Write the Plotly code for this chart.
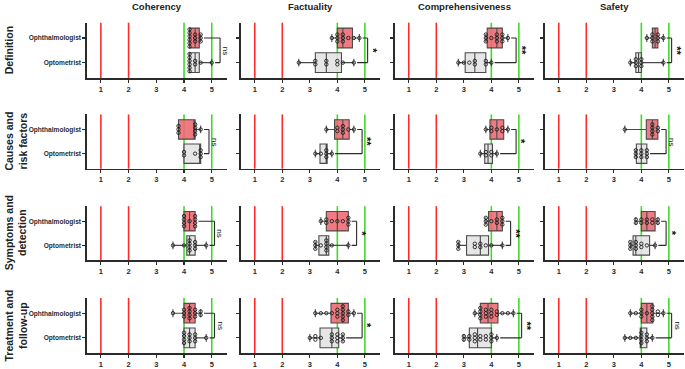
import plotly.graph_objects as go

criteria = ["Coherency", "Factuality", "Comprehensiveness", "Safety"]
topics = ["Definition", "Causes and<br>risk factors", "Symptoms and<br>detection", "Treatment and<br>follow-up"]
groups = ["Ophthalmologist", "Optometrist"]
x_ticks = [1, 2, 3, 4, 5]
ref_red = [1, 2]
ref_green = [4, 5]

# individual scores, per topic, one list per criterion
opht_definition = [
    [4.2, 4.2, 4.2, 4.2, 4.2, 4.2, 4.4, 4.4, 4.4, 4.6, 4.6, 4.6],
    [3.8, 4.0, 4.0, 4.0, 4.2, 4.2, 4.2, 4.4, 4.6, 4.8],
    [3.8, 3.8, 3.8, 4.0, 4.2, 4.2, 4.2, 4.4, 4.4, 4.4, 4.6],
    [4.2, 4.4, 4.4, 4.4, 4.6, 4.6, 4.6, 4.8],
]
opt_definition = [
    [4.2, 4.2, 4.2, 4.2, 4.2, 4.2, 4.4, 4.4, 4.6, 5.0],
    [2.6, 3.2, 3.2, 3.6, 3.6, 4.0, 4.0, 4.2, 4.6],
    [2.8, 3.0, 3.2, 3.4, 3.4, 3.8, 3.8, 4.0],
    [3.6, 3.8, 3.8, 3.8, 4.0, 4.0, 4.0, 4.8],
]
opht_causes = [
    [3.8, 3.8, 3.8, 4.4, 4.4, 4.4, 4.4, 4.6],
    [3.6, 4.0, 4.0, 4.2, 4.2, 4.2, 4.4, 4.6],
    [3.8, 4.0, 4.0, 4.2, 4.4, 4.4, 4.6],
    [3.4, 4.4, 4.4, 4.4, 4.4, 4.6, 4.6],
]
opt_causes = [
    [4.0, 4.0, 4.4, 4.6, 4.6, 4.6],
    [3.2, 3.4, 3.6, 3.6, 3.6, 3.8],
    [3.6, 3.8, 3.8, 4.0, 4.0, 4.2],
    [3.8, 3.8, 3.8, 4.0, 4.0, 4.0, 4.2, 4.2, 4.2],
]
opht_symptoms = [
    [4.0, 4.0, 4.0, 4.0, 4.2, 4.4, 4.4, 4.4, 4.4],
    [3.4, 3.6, 3.6, 3.8, 4.0, 4.2, 4.4, 4.4, 4.4],
    [3.8, 3.8, 3.8, 4.0, 4.2, 4.2, 4.4, 4.4, 4.4],
    [3.8, 3.8, 4.0, 4.0, 4.2, 4.2, 4.4, 4.4, 4.6, 4.6],
]
opt_symptoms = [
    [3.6, 4.0, 4.2, 4.2, 4.2, 4.2, 4.4, 4.4, 4.4, 4.8],
    [3.2, 3.2, 3.2, 3.4, 3.6, 3.6, 3.6, 3.6, 3.8, 4.4],
    [2.8, 2.8, 2.8, 3.4, 3.4, 3.6, 3.6, 3.8, 4.0, 4.4],
    [3.6, 3.6, 3.6, 3.8, 3.8, 3.8, 4.0, 4.0, 4.2, 4.5],
]
opht_treatment = [
    [3.6, 4.0, 4.0, 4.0, 4.2, 4.2, 4.2, 4.2, 4.4, 4.4, 4.4, 4.6, 4.6],
    [3.2, 3.4, 3.6, 3.8, 4.0, 4.0, 4.0, 4.2, 4.2, 4.2, 4.2, 4.2, 4.4, 4.4, 4.6],
    [3.4, 3.6, 3.6, 3.6, 3.6, 3.8, 3.8, 3.8, 4.0, 4.0, 4.0, 4.2, 4.2, 4.4, 4.6, 4.8],
    [3.6, 3.8, 4.0, 4.0, 4.0, 4.2, 4.4, 4.4, 4.4, 4.4, 4.4, 4.6, 4.6, 4.8],
]
opt_treatment = [
    [4.0, 4.0, 4.0, 4.0, 4.2, 4.2, 4.2, 4.4, 4.4, 4.4, 4.8],
    [3.0, 3.2, 3.2, 3.4, 3.8, 3.8, 3.8, 4.0, 4.0, 4.0, 4.2, 4.2, 4.2],
    [3.0, 3.0, 3.2, 3.2, 3.4, 3.4, 3.4, 3.6, 3.6, 3.8, 3.8, 4.0, 4.0, 4.0, 4.2],
    [3.4, 3.6, 3.8, 4.0, 4.0, 4.0, 4.0, 4.2, 4.2, 4.2, 4.4],
]

# box statistics (rows = topics, cols = criteria)
opht_q1 = [[4.2, 4.0, 3.85, 4.4], [3.8, 3.9, 3.95, 4.18], [4.0, 3.6, 3.9, 4.0], [4.0, 3.77, 3.6, 4.0]]
opht_med = [[4.4, 4.2, 4.2, 4.5], [4.4, 4.2, 4.2, 4.4], [4.2, 4.0, 4.2, 4.2], [4.2, 4.2, 3.88, 4.2]]
opht_q3 = [[4.55, 4.55, 4.4, 4.6], [4.4, 4.43, 4.45, 4.6], [4.4, 4.4, 4.4, 4.5], [4.4, 4.4, 4.24, 4.42]]
opht_min = [[4.2, 3.8, 3.8, 4.2], [3.8, 3.6, 3.8, 3.4], [4.0, 3.4, 3.8, 3.8], [3.6, 3.2, 3.4, 3.6]]
opht_max = [[4.6, 4.8, 4.6, 4.8], [4.6, 4.6, 4.6, 4.6], [4.4, 4.4, 4.4, 4.6], [4.6, 4.6, 4.8, 4.8]]

opt_q1 = [[4.2, 3.2, 3.05, 3.8], [4.0, 3.37, 3.76, 3.82], [4.1, 3.33, 3.1, 3.7], [4.0, 3.37, 3.2, 3.96]]
opt_med = [[4.4, 3.6, 3.4, 3.9], [4.6, 3.6, 3.88, 4.0], [4.2, 3.6, 3.6, 3.8], [4.2, 3.8, 3.5, 4.0]]
opt_q3 = [[4.55, 4.15, 3.8, 4.0], [4.6, 3.63, 4.04, 4.2], [4.4, 3.69, 3.9, 4.3], [4.4, 4.05, 4.0, 4.2]]
opt_min = [[4.2, 2.6, 2.8, 3.6], [4.0, 3.2, 3.6, 3.8], [3.6, 3.2, 2.8, 3.6], [4.0, 3.0, 3.0, 3.4]]
opt_max = [[5.0, 4.6, 4.0, 4.8], [4.6, 3.8, 4.2, 4.2], [4.8, 4.4, 4.4, 4.5], [4.8, 4.2, 4.2, 4.4]]

sig_labels = [["ns", "*", "**", "**"], ["ns", "**", "*", "ns"], ["ns", "*", "**", "*"], ["ns", "*", "**", "ns"]]

opht_points = [opht_definition, opht_causes, opht_symptoms, opht_treatment]
opt_points = [opt_definition, opt_causes, opt_symptoms, opt_treatment]

# ---------------- layout geometry (pixels) ----------------
W, H = 685, 369
col_px = [(87, 227), (241, 380), (395, 534), (545, 684)]
row_px = [(23, 79), (116, 171), (209, 264), (302, 358)]
FONT = "Arial, Liberation Sans, sans-serif"
DARK = "#2b2b2b"

OPHT_FILL = "rgba(238,104,112,0.88)"
OPT_FILL = "rgba(226,226,226,0.88)"
RED = "#ff2b2b"
GREEN = "#3fd92a"

fig = go.Figure()
shapes = []
annotations = []


def swarm(vals, base, step=0.14):
    ys, xs = [], []
    counts = {}
    for v in vals:
        counts[v] = counts.get(v, 0) + 1
    for v, n in counts.items():
        for i in range(n):
            xs.append(v)
            ys.append(base + (i - (n - 1) / 2) * step)
    return xs, ys


for r in range(4):
    for c in range(4):
        k = r * 4 + c + 1
        sx = "" if k == 1 else str(k)
        xa, ya = "x" + sx, "y" + sx
        x0, x1 = col_px[c]
        y0, y1 = row_px[r]
        fig.layout["xaxis" + sx] = dict(
            domain=[x0 / W, x1 / W], anchor=ya, range=[0.5, 5.55],
            tickvals=x_ticks, ticktext=[str(t) for t in x_ticks],
            showline=True, linecolor=DARK, linewidth=1.6, ticks="outside",
            ticklen=3, tickwidth=1.2, tickcolor=DARK, showgrid=False, zeroline=False,
            tickfont=dict(family=FONT, size=7.5, color=DARK, weight="bold"),
        )
        fig.layout["yaxis" + sx] = dict(
            domain=[1 - y1 / H, 1 - y0 / H], anchor=xa, range=[-0.62, 1.62],
            tickvals=[1, 0], ticktext=groups if c == 0 else ["", ""],
            showline=True, linecolor=DARK, linewidth=1.6, ticks="outside",
            ticklen=3, tickwidth=1.2, tickcolor=DARK, showgrid=False, zeroline=False,
            tickfont=dict(family=FONT, size=6.6, color=DARK, weight="bold"),
        )
        for xv in ref_red:
            shapes.append(dict(type="line", xref=xa, yref=ya + " domain", x0=xv, x1=xv,
                               y0=0, y1=1, line=dict(color=RED, width=1.6), layer="below"))
        for xv in ref_green:
            shapes.append(dict(type="line", xref=xa, yref=ya + " domain", x0=xv, x1=xv,
                               y0=0, y1=1, line=dict(color=GREEN, width=1.6), layer="below"))

        groups_stats = [
            (1, OPHT_FILL, opht_q1, opht_med, opht_q3, opht_min, opht_max, opht_points),
            (0, OPT_FILL, opt_q1, opt_med, opt_q3, opt_min, opt_max, opt_points),
        ]
        for pos, fill, q1, med, q3, mn, mx, pts in groups_stats:
            fig.add_trace(go.Box(
                y=[pos], q1=[q1[r][c]], median=[med[r][c]], q3=[q3[r][c]],
                lowerfence=[mn[r][c]], upperfence=[mx[r][c]], orientation="h",
                width=0.8, whiskerwidth=0.4, fillcolor=fill, boxpoints=False,
                line=dict(color="#4a4a4a", width=1.1), xaxis=xa, yaxis=ya,
                hoverinfo="skip", showlegend=False,
            ))
            px_, py_ = swarm(pts[r][c], pos)
            fig.add_trace(go.Scatter(
                x=px_, y=py_, mode="markers", xaxis=xa, yaxis=ya, hoverinfo="skip",
                marker=dict(symbol="circle-open", size=3.4, color="#1e1e1e", line=dict(width=0.9)),
                showlegend=False,
            ))

        # significance bracket
        top = max(opht_max[r][c], opt_max[r][c])
        bx = top + 0.3
        gap = 0.12
        line = dict(color=DARK, width=1.1)
        shapes.append(dict(type="line", xref=xa, yref=ya, x0=opht_max[r][c] + gap, x1=bx, y0=1, y1=1, line=line))
        shapes.append(dict(type="line", xref=xa, yref=ya, x0=bx, x1=bx, y0=1, y1=0, line=line))
        shapes.append(dict(type="line", xref=xa, yref=ya, x0=opt_max[r][c] + gap, x1=bx, y0=0, y1=0, line=line))
        lab = sig_labels[r][c]
        annotations.append(dict(
            x=bx + 0.2, y=0.5, xref=xa, yref=ya, text=lab, showarrow=False, textangle=90,
            font=dict(family=FONT, size=8 if lab == "ns" else 11, color="#111", weight="bold" if lab != "ns" else "normal"),
            xanchor="center", yanchor="middle",
        ))

for c, name in enumerate(criteria):
    cx = (col_px[c][0] + col_px[c][1]) / 2 / W
    annotations.append(dict(x=cx, y=1 - 7 / H, xref="paper", yref="paper", text=name,
                            showarrow=False, xanchor="center", yanchor="middle",
                            font=dict(family=FONT, size=9.5, color="#222", weight="bold")))

for r, name in enumerate(topics):
    cy = 1 - (row_px[r][0] + row_px[r][1]) / 2 / H
    annotations.append(dict(x=1 / W, y=cy, xref="paper", yref="paper", text=name,
                            showarrow=False, xanchor="left", yanchor="middle", textangle=-90,
                            font=dict(family=FONT, size=10.5, color="#222", weight="bold")))

fig.update_layout(
    width=W, height=H, margin=dict(l=0, r=0, t=0, b=0),
    paper_bgcolor="white", plot_bgcolor="white", showlegend=False,
    shapes=shapes, annotations=annotations,
)

fig.write_html("out.html", config={"displayModeBar": False, "staticPlot": True},
               post_script="document.body.style.margin='0';document.body.style.overflow='hidden';")
